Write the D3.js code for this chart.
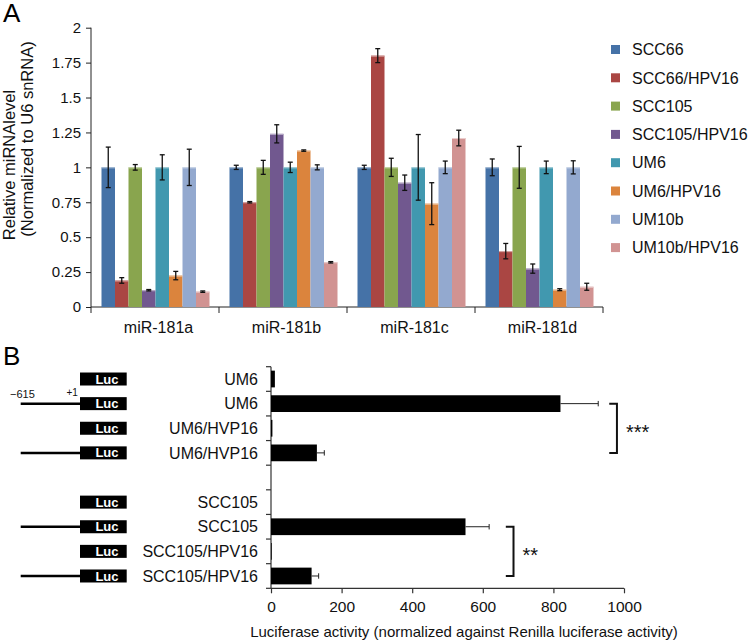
<!DOCTYPE html>
<html>
<head>
<meta charset="utf-8">
<script src="https://cdn.jsdelivr.net/npm/d3@7"></script>
<style>
  html, body { margin: 0; padding: 0; background: #fff; }
  svg { display: block; font-family: "Liberation Sans", Arial, sans-serif; }
</style>
</head>
<body>
<svg id="chart" width="750" height="644"></svg>
<script>
// ---------- Panel A data ----------
const categories = ["miR-181a", "miR-181b", "miR-181c", "miR-181d"];
const seriesNames = ["SCC66", "SCC66/HPV16", "SCC105", "SCC105/HPV16", "UM6", "UM6/HPV16", "UM10b", "UM10b/HPV16"];
const seriesColors = ["#4572A7", "#AA4643", "#89A54E", "#71588F", "#4198AF", "#DB843D", "#93A9CF", "#D19392"];
const valSCC66       = [1, 1, 1, 1];
const valSCC66HPV    = [0.19, 0.75, 1.80, 0.40];
const valSCC105      = [1, 1, 1, 1];
const valSCC105HPV   = [0.12, 1.24, 0.89, 0.275];
const valUM6         = [1, 1, 1, 1];
const valUM6HPV      = [0.225, 1.12, 0.74, 0.124];
const valUM10b       = [1, 1, 1, 1];
const valUM10bHPV    = [0.11, 0.32, 1.21, 0.145];
const errSCC66       = [0.145, 0.015, 0.015, 0.06];
const errSCC66HPV    = [0.02, 0.005, 0.05, 0.055];
const errSCC105      = [0.02, 0.05, 0.065, 0.15];
const errSCC105HPV   = [0.005, 0.065, 0.055, 0.033];
const errUM6         = [0.09, 0.037, 0.235, 0.045];
const errUM6HPV      = [0.03, 0.005, 0.15, 0.007];
const errUM10b       = [0.13, 0.018, 0.045, 0.047];
const errUM10bHPV    = [0.005, 0.005, 0.056, 0.025];
const yTicksA = [0, 0.25, 0.5, 0.75, 1, 1.25, 1.5, 1.75, 2];

// ---------- Panel B data ----------
const rowLabelsB = ["UM6", "UM6", "UM6/HVP16", "UM6/HVP16", "", "SCC105", "SCC105", "SCC105/HPV16", "SCC105/HPV16"];
const rowPromoterB = [false, true, false, true, null, false, true, false, true];
const lucValuesB = [11, 820, 4, 130, null, 0, 551, 2, 115];
const lucErrorsB = [0, 107, 0, 21, null, 0, 67, 0, 20];
const xTicksB = [0, 200, 400, 600, 800, 1000];
const sigBrackets = [
  { from: 1, to: 3, label: "***", at: 980 },
  { from: 6, to: 8, label: "**", at: 687 }
];

const allVals = [valSCC66, valSCC66HPV, valSCC105, valSCC105HPV, valUM6, valUM6HPV, valUM10b, valUM10bHPV];
const allErrs = [errSCC66, errSCC66HPV, errSCC105, errSCC105HPV, errUM6, errUM6HPV, errUM10b, errUM10bHPV];

const svg = d3.select("#chart");
const FONT = '"Liberation Sans", Arial, sans-serif';

// ================= PANEL A =================
const axL = 91, axR = 603, axTop = 27.7, axBot = 307;
const x0 = d3.scaleBand().domain(categories).range([axL, axR]).paddingInner(0).paddingOuter(0);
const x1 = d3.scaleBand().domain(seriesNames).range([10.5, x0.bandwidth() - 9.5]).paddingInner(0).paddingOuter(0);
const yA = d3.scaleLinear().domain([0, 2]).range([axBot, axTop]);

svg.append("text").attr("x", 3).attr("y", 22).attr("font-size", 26).text("A");

// y axis
const gYA = svg.append("g").attr("transform", `translate(${axL},0)`)
  .call(d3.axisLeft(yA).tickValues(yTicksA).tickSize(5).tickPadding(5).tickFormat(d => String(d)));
gYA.select(".domain").attr("stroke", "#222").attr("d", `M0,${axTop}V${axBot}`);
gYA.selectAll(".tick line").attr("stroke", "#222");
gYA.selectAll(".tick text").attr("font-size", 15).attr("font-family", FONT).attr("fill", "#111");

// x axis
svg.append("line").attr("x1", axL).attr("x2", axR).attr("y1", axBot).attr("y2", axBot).attr("stroke", "#222");
const boundaries = categories.map(c => x0(c)).concat([axR]);
svg.selectAll(".xtA").data(boundaries).join("line")
  .attr("x1", d => d).attr("x2", d => d).attr("y1", axBot).attr("y2", axBot + 6).attr("stroke", "#222");
svg.selectAll(".xlA").data(categories).join("text")
  .attr("x", d => x0(d) + x0.bandwidth() / 2 + 3.5).attr("y", 333)
  .attr("text-anchor", "middle").attr("font-size", 16).attr("fill", "#111").text(d => d);

// y title
svg.append("text").attr("transform", "translate(14.5,165) rotate(-90)")
  .attr("text-anchor", "middle").attr("font-size", 16.5).attr("fill", "#111").text("Relative miRNAlevel");
svg.append("text").attr("transform", "translate(33,139) rotate(-90)")
  .attr("text-anchor", "middle").attr("font-size", 16.5).attr("fill", "#111").text("(Normalized to U6 snRNA)");

// bars
const flat = [];
categories.forEach((c, ci) => {
  seriesNames.forEach((s, si) => {
    flat.push({ cat: c, ser: s, si, v: allVals[si][ci], e: allErrs[si][ci] });
  });
});
const gBars = svg.append("g");
gBars.selectAll("rect").data(flat).join("rect")
  .attr("x", d => x0(d.cat) + x1(d.ser))
  .attr("width", x1.bandwidth())
  .attr("y", d => yA(d.v))
  .attr("height", d => yA(0) - yA(d.v))
  .attr("fill", d => seriesColors[d.si]);
gBars.selectAll("line.top").data(flat).join("line").attr("class", "top")
  .attr("x1", d => x0(d.cat) + x1(d.ser)).attr("x2", d => x0(d.cat) + x1(d.ser) + x1.bandwidth())
  .attr("y1", d => yA(d.v) + 0.5).attr("y2", d => yA(d.v) + 0.5)
  .attr("stroke", d => d3.interpolateRgb(seriesColors[d.si], "#ffffff")(0.55)).attr("stroke-width", 1);

// error bars
const gErr = svg.append("g").attr("stroke", "#111").attr("stroke-width", 1.3);
flat.forEach(d => {
  const cx = x0(d.cat) + x1(d.ser) + x1.bandwidth() / 2;
  const yt = yA(d.v + d.e), yb = yA(d.v - d.e);
  gErr.append("line").attr("x1", cx).attr("x2", cx).attr("y1", yt).attr("y2", yb);
  gErr.append("line").attr("x1", cx - 2.5).attr("x2", cx + 2.5).attr("y1", yt).attr("y2", yt);
  gErr.append("line").attr("x1", cx - 2.5).attr("x2", cx + 2.5).attr("y1", yb).attr("y2", yb);
});

// legend
const legY0 = 49.5, legDy = 28.3;
const gLeg = svg.append("g");
seriesNames.forEach((s, i) => {
  const cy = legY0 + i * legDy;
  gLeg.append("rect").attr("x", 611).attr("y", cy - 4.5).attr("width", 9).attr("height", 9).attr("fill", seriesColors[i]);
  gLeg.append("text").attr("x", 632).attr("y", cy + 5.7).attr("font-size", 16).attr("fill", "#111").text(s);
});

// ================= PANEL B =================
const bL = 271, bR = 624, bTop = 366.7, bBot = 588.3;
svg.append("text").attr("x", 3).attr("y", 365).attr("font-size", 26).text("B");

const xB = d3.scaleLinear().domain([0, 1000]).range([bL, bR]);
const yB = d3.scaleBand().domain(d3.range(rowLabelsB.length)).range([bTop, bBot]).paddingInner(0.32).paddingOuter(0.16);
const yBand = d3.scaleBand().domain(d3.range(rowLabelsB.length)).range([bTop, bBot]);

// y axis line + ticks at band boundaries
svg.append("line").attr("x1", bL).attr("x2", bL).attr("y1", bTop).attr("y2", bBot).attr("stroke", "#333").attr("stroke-width", 1.2);
const rowEdges = d3.range(rowLabelsB.length).map(i => yBand(i)).concat([bBot]);
svg.selectAll(".ytB").data(rowEdges).join("line")
  .attr("x1", bL - 5).attr("x2", bL).attr("y1", d => d).attr("y2", d => d).attr("stroke", "#333").attr("stroke-width", 1.2);

// x axis
const gXB = svg.append("g").attr("transform", `translate(0,${bBot})`)
  .call(d3.axisBottom(xB).tickValues(xTicksB).tickSize(5).tickPadding(8).tickFormat(d3.format("d")));
gXB.select(".domain").attr("stroke", "#333").attr("stroke-width", 1.2).attr("d", `M${bL},0H${bR}`);
gXB.selectAll(".tick line").attr("stroke", "#333").attr("stroke-width", 1.2);
gXB.selectAll(".tick text").attr("font-size", 15.5).attr("font-family", FONT).attr("fill", "#111").attr("dy", "0.71em");

svg.append("text").attr("x", 464).attr("y", 637).attr("text-anchor", "middle").attr("font-size", 15)
  .attr("fill", "#111").text("Luciferase activity (normalized against Renilla luciferase activity)");

// row labels, Luc boxes, promoter lines
rowLabelsB.forEach((lab, i) => {
  if (rowPromoterB[i] === null) return;
  const cy = yBand(i) + yBand.bandwidth() / 2;
  svg.append("text").attr("x", 258).attr("y", cy + 5.7).attr("text-anchor", "end").attr("font-size", 16).attr("fill", "#111").text(lab);
  svg.append("rect").attr("x", 80).attr("y", cy - 6.5).attr("width", 46.7).attr("height", 13).attr("fill", "#000");
  svg.append("text").attr("x", 118.5).attr("y", cy + 4.6).attr("text-anchor", "end").attr("font-size", 13)
    .attr("font-weight", "bold").attr("fill", "#fff").text("Luc");
  if (rowPromoterB[i]) {
    svg.append("line").attr("x1", 20.7).attr("x2", 80).attr("y1", cy).attr("y2", cy).attr("stroke", "#000").attr("stroke-width", 2.5);
  }
});
svg.append("text").attr("x", 10).attr("y", 398).attr("font-size", 11).attr("fill", "#111").text("\u2212615");
svg.append("text").attr("x", 66.5).attr("y", 396).attr("font-size", 10).attr("fill", "#111").text("+1");

// bars B
lucValuesB.forEach((v, i) => {
  if (v === null) return;
  const y = yB(i), h = yB.bandwidth();
  svg.append("rect").attr("x", xB(0)).attr("y", y).attr("width", Math.max(0, xB(v) - xB(0))).attr("height", h).attr("fill", "#000");
  const e = lucErrorsB[i];
  if (e > 0) {
    const cy = y + h / 2;
    svg.append("line").attr("x1", xB(v)).attr("x2", xB(v + e)).attr("y1", cy).attr("y2", cy).attr("stroke", "#222").attr("stroke-width", 1);
    svg.append("line").attr("x1", xB(v + e)).attr("x2", xB(v + e)).attr("y1", cy - 2.7).attr("y2", cy + 2.7).attr("stroke", "#222").attr("stroke-width", 1);
  }
});

// significance brackets
sigBrackets.forEach(b => {
  const y1 = yBand(b.from) + yBand.bandwidth() / 2;
  const y2 = yBand(b.to) + yBand.bandwidth() / 2;
  const bx = xB(b.at);
  svg.append("path").attr("d", `M${bx - 7.7},${y1}H${bx}V${y2}H${bx - 7.7}`)
    .attr("fill", "none").attr("stroke", "#111").attr("stroke-width", 2);
  svg.append("text").attr("x", bx + 9).attr("y", (y1 + y2) / 2 + 11).attr("font-size", 20).attr("fill", "#111").text(b.label);
});
</script>
</body>
</html>
